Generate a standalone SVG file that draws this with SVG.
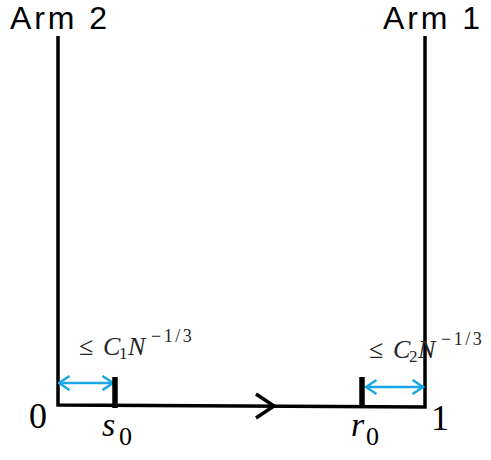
<svg xmlns="http://www.w3.org/2000/svg" width="491" height="460" viewBox="0 0 491 460">
<style>
.ln{stroke:#000;stroke-width:3.5;fill:none}
.tk{stroke:#000;stroke-width:5.5}
.bl{stroke:#1aa7e8;stroke-width:2.5;fill:none}
.arm{font-family:"Liberation Sans","Open Sans",sans-serif;font-size:32px;fill:#000}
.num{font-family:"Liberation Serif",serif;font-size:36px;fill:#000}
.mi{font-family:"Liberation Serif",serif;font-style:italic;fill:#000}
.lab{font-family:"Liberation Serif",serif;font-size:26px;fill:#262626}
.it{font-style:italic}
.sb{font-size:17px;font-style:normal}
.sp{font-size:18px;font-style:normal;letter-spacing:2.5px}
</style>
<defs>
<marker id="bh" viewBox="0 0 14 16" refX="12.5" refY="8" markerWidth="14" markerHeight="16" markerUnits="userSpaceOnUse" orient="auto-start-reverse">
<path d="M2,1 L12.5,8 L2,15" stroke="#1aa7e8" stroke-width="2.5" fill="none"/>
</marker>
</defs>
<g id="connectors">
<path class="ln" d="M58,36 V405 L425,407 V36"/>
<path class="ln" d="M256,394 L274,406 L256,418"/>
<line class="bl" x1="59" y1="383" x2="113" y2="383" marker-start="url(#bh)" marker-end="url(#bh)"/>
<line class="bl" x1="366" y1="387" x2="423" y2="387" marker-start="url(#bh)" marker-end="url(#bh)"/>
</g>
<g id="arm2"><text class="arm" x="10" y="29" textLength="97" lengthAdjust="spacing">Arm 2</text></g>
<g id="arm1"><text class="arm" x="383" y="29" textLength="97" lengthAdjust="spacing">Arm 1</text></g>
<g id="s0">
<line class="tk" x1="115" y1="377" x2="115" y2="408"/>
<text class="mi" x="102" y="436" font-size="34">s<tspan font-style="normal" font-size="26" x="119" y="445">0</tspan></text>
</g>
<g id="r0">
<line class="tk" x1="362" y1="377" x2="362" y2="408"/>
<text class="mi" x="351" y="436" font-size="34">r<tspan font-style="normal" font-size="26" x="366" y="445">0</tspan></text>
</g>
<g id="zero"><text class="num" x="29" y="428">0</text></g>
<g id="one"><text class="num" x="431" y="430">1</text></g>
<g id="lab1"><text class="lab" x="79" y="355">≤<tspan class="it" x="103">C</tspan><tspan class="sb" x="119" y="359">1</tspan><tspan class="it" x="128" y="355">N</tspan><tspan class="sp" x="151" y="342">−1/3</tspan></text></g>
<g id="lab2"><text class="lab" x="369" y="358">≤<tspan class="it" x="393">C</tspan><tspan class="sb" x="409" y="362">2</tspan><tspan class="it" x="418" y="358">N</tspan><tspan class="sp" x="441" y="345">−1/3</tspan></text></g>
</svg>
